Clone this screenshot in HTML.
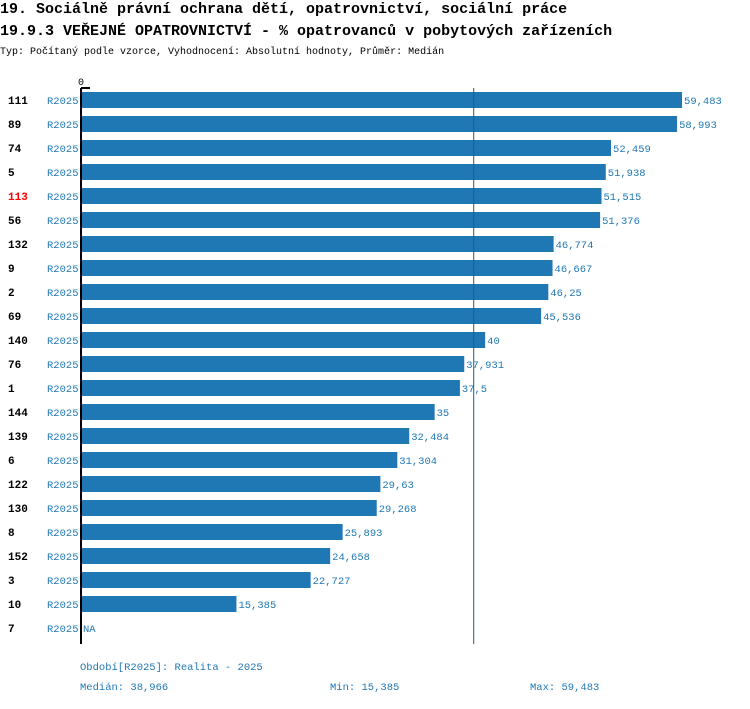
<!DOCTYPE html>
<html><head><meta charset="utf-8"><style>
body{margin:0;background:#fff;width:750px;height:704px;overflow:hidden;font-family:"Liberation Mono",monospace}
svg text{font-family:"Liberation Mono",monospace}
</style></head><body>
<svg width="750" height="704">
<text x="0" y="13" font-size="15" font-weight="bold">19. Sociálně právní ochrana dětí, opatrovnictví, sociální práce</text>
<text x="0" y="35" font-size="15" font-weight="bold">19.9.3 VEŘEJNÉ OPATROVNICTVÍ - % opatrovanců v pobytových zařízeních</text>
<text x="0" y="54" font-size="10">Typ: Počítaný podle vzorce, Vyhodnocení: Absolutní hodnoty, Průměr: Medián</text>
<text x="78" y="85" font-size="10">0</text>
<g id="bars"></g>
<line x1="81" y1="88" x2="81" y2="644" stroke="#000" stroke-width="2"/>
<line x1="81" y1="88" x2="90" y2="88" stroke="#000" stroke-width="2"/>
<line id="med" y1="88" y2="644" stroke="#1f5f8f" stroke-width="1"/>
<text x="80" y="670" font-size="10.5" fill="#1f77b4">Období[R2025]: Realita - 2025</text>
<text x="80" y="690" font-size="10.5" fill="#1f77b4">Medián: 38,966</text>
<text x="330" y="690" font-size="10.5" fill="#1f77b4">Min: 15,385</text>
<text x="530" y="690" font-size="10.5" fill="#1f77b4">Max: 59,483</text>
</svg>
<script>
const categories=["111","89","74","5","113","56","132","9","2","69","140","76","1","144","139","6","122","130","8","152","3","10","7"];
const values=[59.483,58.993,52.459,51.938,51.515,51.376,46.774,46.667,46.25,45.536,40,37.931,37.5,35,32.484,31.304,29.63,29.268,25.893,24.658,22.727,15.385,null];
const labels=["59,483","58,993","52,459","51,938","51,515","51,376","46,774","46,667","46,25","45,536","40","37,931","37,5","35","32,484","31,304","29,63","29,268","25,893","24,658","22,727","15,385","NA"];
const highlight="113";
const median=38.966;
const NS="http://www.w3.org/2000/svg";
const x=v=>81+v*10.104;
const y=i=>100+i*24;
const g=document.getElementById('bars');
function mk(t,a){const e=document.createElementNS(NS,t);for(const k in a)e.setAttribute(k,a[k]);g.appendChild(e);return e;}
categories.forEach((c,i)=>{
  const t=mk('text',{x:8,y:y(i)+4,'font-size':11,'font-weight':'bold',fill:c===highlight?'#f00':'#000'});t.textContent=c;
  
  
  const p=mk('text',{x:47,y:y(i)+4,'font-size':10.5,fill:'#1f77b4'});p.textContent='R2025';
  
  
  const v=values[i];let end=x(0);
  if(v!==null){
    const r=mk('rect',{x:x(0),y:y(i)-8,width:x(v)-x(0),height:16,fill:'#1f77b4'});
    
    
    end=x(v);
  }
  const l=mk('text',{x:end+2,y:y(i)+4,'font-size':10.5,fill:'#1f77b4'});l.textContent=labels[i];
  
  
});
const m=document.getElementById('med');m.setAttribute('x1',x(median)-1);m.setAttribute('x2',x(median)-1);
</script>
</body></html>
